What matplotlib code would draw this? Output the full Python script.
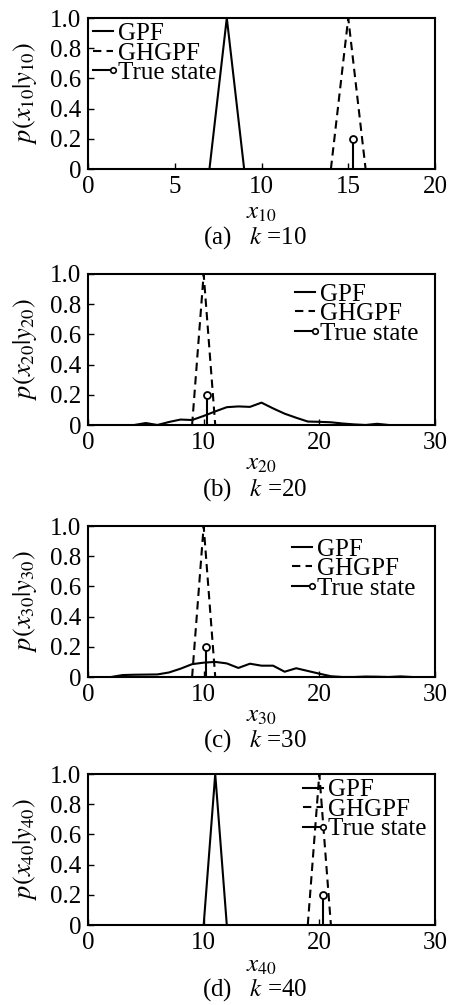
import numpy as np
import matplotlib
matplotlib.use('Agg')
import matplotlib.pyplot as plt
from matplotlib.lines import Line2D
from matplotlib.legend_handler import HandlerBase
from matplotlib.container import StemContainer

plt.rcParams['font.family'] = ['Liberation Serif', 'DejaVu Serif']
plt.rcParams['mathtext.fontset'] = 'stix'
plt.rcParams['font.size'] = 18

#  values, one panel per time step k

steps = [10, 20, 30, 40]
letters = ['a', 'b', 'c', 'd']
xmax = [20, 30, 30, 30]

# GPF posterior
gpf_x = [
    [7, 8, 9],
    [4, 5, 6, 7, 8, 9, 10, 11, 12, 13, 14, 15, 16, 17, 18, 19, 20, 21, 22, 23, 24, 25, 26],
    [2, 3, 4, 5, 6, 7, 8, 9, 10, 11, 12, 13, 14, 15, 16, 17, 18, 19, 20, 21, 22, 23, 24, 25, 26, 27, 28],
    [10, 11, 12],
]
gpf_p = [
    [0, 1, 0],
    [0, 0.013, 0, 0.02, 0.036, 0.033, 0.06, 0.09, 0.118, 0.123, 0.12, 0.148, 0.11,
     0.075, 0.048, 0.023, 0.021, 0.018, 0.01, 0.004, 0, 0.008, 0],
    [0, 0.013, 0.015, 0.016, 0.017, 0.03, 0.055, 0.085, 0.095, 0.1, 0.09, 0.06, 0.088,
     0.075, 0.075, 0.035, 0.058, 0.04, 0.022, 0.005, 0, 0, 0.003, 0.002, 0, 0.004, 0],
    [0, 1, 0],
]

# GHGPF posterior
ghgpf_x = [[14, 15, 16], [9, 10, 11], [9, 10, 11], [19, 20, 21]]
ghgpf_p = [[0, 1, 0], [0, 1, 0], [0, 1, 0], [0, 1, 0]]

# true state position (drawn as a stem of height 0.2)
true_x = [15.3, 10.3, 10.2, 20.3]
true_h = 0.2

# legend corner (axes fraction) for each panel
leg_anchor = [(0.014, 0.97), (0.597, 0.94), (0.588, 0.92), (0.62, 0.967)]


class StemLegend(HandlerBase):
    # short line with an open circle at its right end
    def create_artists(self, legend, orig_handle, xdescent, ydescent,
                       width, height, fontsize, trans):
        y = height / 2 - ydescent
        x0, x1 = -xdescent, width - xdescent
        line = Line2D([x0, x1], [y, y], color='k', lw=1.5, transform=trans)
        dot = Line2D([x1], [y], marker='o', ms=4, mfc='white', mec='k',
                     mew=1.2, transform=trans)
        return [line, dot]


W, H = 450, 1005
fig = plt.figure(figsize=(W / 100, H / 100), dpi=100)

ax_top = [18, 274, 526, 774]
ax_h = 151
xlab_y = [213, 464, 716, 966]
cap_y = [238, 490, 741, 990]

for i in range(4):
    k = steps[i]
    ax = fig.add_axes([88 / W, 1 - (ax_top[i] + ax_h) / H, 347 / W, ax_h / H])

    ax.plot(gpf_x[i], gpf_p[i], 'k-', lw=1.5, label='GPF')
    ax.plot(ghgpf_x[i], ghgpf_p[i], 'k--', lw=1.5, dashes=(4, 2.5), label='GHGPF')
    st = ax.stem([true_x[i]], [true_h], linefmt='k-', markerfmt='ko', basefmt=' ',
                 label='True state')
    st.markerline.set_markerfacecolor('white')
    st.markerline.set_markersize(5)
    st.markerline.set_markeredgewidth(1.3)
    st.stemlines.set_linewidth(1.5)

    ax.set_xlim(0, xmax[i])
    ax.set_ylim(0, 1.0)
    ax.set_yticks([0, 0.2, 0.4, 0.6, 0.8, 1.0])
    ax.set_yticklabels(['0', '0.2', '0.4', '0.6', '0.8', '1.0'])
    ax.tick_params(direction='in', length=4, width=1, top=False, right=False, pad=5)
    for s in ax.spines.values():
        s.set_linewidth(1.5)

    ax.set_ylabel(r'$p(x_{%d}|y_{%d})$' % (k, k), fontsize=19)
    ax.yaxis.set_label_coords(-0.14, 0.5)

    fig.text(261 / W, 1 - xlab_y[i] / H, r'$x_{%d}$' % k, ha='center', va='center')
    fig.text(255 / W, 1 - cap_y[i] / H, r'(%s)   $k$ =%d' % (letters[i], k),
             ha='center', va='center')

    ax.legend(loc='upper left', bbox_to_anchor=leg_anchor[i], frameon=False,
              handlelength=0.8, handletextpad=0.2, labelspacing=-0.12,
              borderpad=0, borderaxespad=0,
              handler_map={StemContainer: StemLegend()})

plt.savefig('out.png', dpi=100)
